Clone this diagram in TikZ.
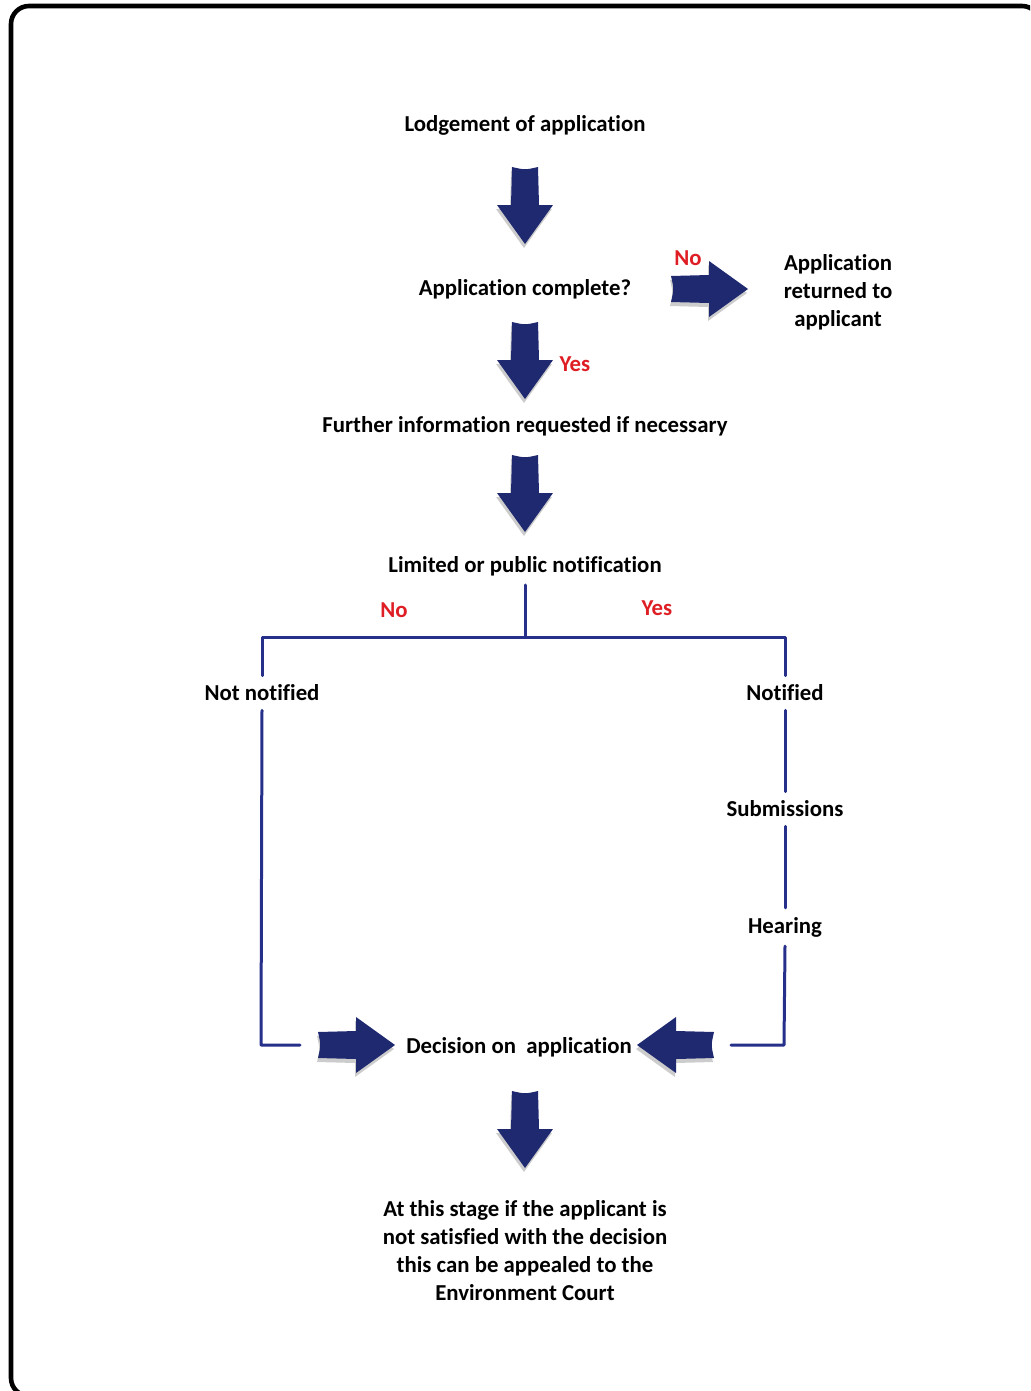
\documentclass[tikz,border=0pt]{standalone}
\usepackage{fontspec}
\setmainfont[Ligatures=NoCommon]{Carlito}
\usetikzlibrary{calc}

\definecolor{navy}{RGB}{31,41,112}
\definecolor{linenavy}{RGB}{38,48,138}
\definecolor{answerred}{RGB}{222,30,36}

\tikzset{
  stage/.style={font=\fontsize{22.8}{28}\selectfont\bfseries, align=center, inner xsep=4pt, inner ysep=9pt},
  answer/.style={font=\fontsize{22.8}{24}\selectfont\bfseries, text=answerred, inner sep=0pt},
  flowline/.style={draw=linenavy, line width=3pt},
  pics/fatarrow/.style={code={
      % grey shadow first, shifted on the page, then the arrow
      \begin{scope}[shift={(-1,-4)}, rotate=#1]
        \fill[black!20] (-38,13) .. controls (-35,0) .. (-38,-13) -- (0,-14) -- (0,-28) -- (39,0) -- (0,28) -- (0,14) -- cycle;
      \end{scope}
      \begin{scope}[rotate=#1]
        \fill[navy] (-38,13) .. controls (-35,0) .. (-38,-13) -- (0,-14) -- (0,-28) -- (39,0) -- (0,28) -- (0,14) -- cycle;
      \end{scope}
  }}
}

\begin{document}
\begin{tikzpicture}[x=1pt, y=1pt, line cap=round, line join=round]
  \useasboundingbox (0,0) rectangle (1030,-1391);
  \begin{scope}
    \clip (0,0) rectangle (1030,-1391);
    \draw[line width=4.6pt, rounded corners=18pt] (11,-6) rectangle (1040,-1396);
  \end{scope}

  % stages
  \node[stage] (lodge) at (525,-125) {Lodgement of application};
  \node[stage] (complete) at (525,-289) {Application complete?};
  \node[stage] (returned) at (838,-292) {Application\\returned to\\applicant};
  \node[stage] (further) at (525,-426) {Further information requested if necessary};
  \node[stage] (limited) at (525,-566) {Limited or public notification};
  \node[stage] (notnot) at (262,-693) {Not notified};
  \node[stage] (notified) at (785,-693) {Notified};
  \node[stage] (subm) at (785,-809) {Submissions};
  \node[stage] (hearing) at (785,-927) {Hearing};
  \node[stage] (decision) at (519,-1047) {Decision on\ \ application};
  \node[stage] (appeal) at (525,-1251) {At this stage if the applicant is\\not satisfied with the decision\\this can be appealed to the\\Environment Court};

  % answers
  \node[answer] (nocomplete) at (688,-258) {No};
  \node[answer] (yescomplete) at (575,-364) {Yes};
  \node[answer] (nonotif) at (394,-610) {No};
  \node[answer] (yesnotif) at (657,-608) {Yes};

  % block arrows
  \pic at (525,-205) {fatarrow=-90};
  \pic at (525,-360) {fatarrow=-90};
  \pic at (525,-493) {fatarrow=-90};
  \pic at (709,-289) {fatarrow=0};
  \pic at (356,-1045) {fatarrow=0};
  \pic at (676,-1045) {fatarrow=180};
  \pic at (525,-1129) {fatarrow=-90};

  % branch lines
  \coordinate (split) at (525,-637);
  \coordinate (lcorner) at (261,-1045);
  \coordinate (lend) at (300,-1045);
  \coordinate (rcorner) at (784,-1045);
  \coordinate (rend) at (731,-1045);
  \draw[flowline] (limited.south) -- (split);
  \draw[flowline] (notnot.north) |- (split) -| (notified.north);
  \draw[flowline] (notnot.south) -- (lcorner) -- (lend);
  \draw[flowline] (notified.south) -- (subm.north);
  \draw[flowline] (subm.south) -- (hearing.north);
  \draw[flowline] (hearing.south) -- (rcorner) -- (rend);
\end{tikzpicture}
\end{document}
